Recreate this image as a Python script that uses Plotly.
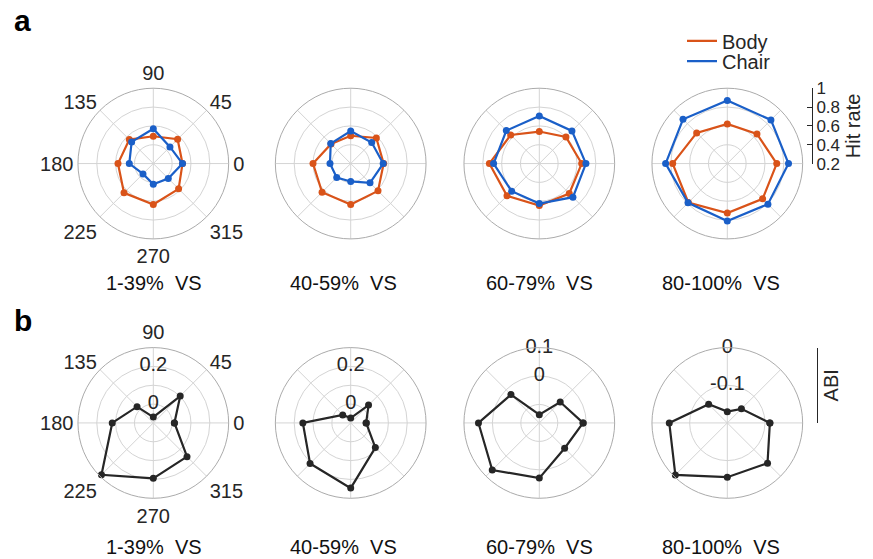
import plotly.graph_objects as go

# Directions (deg) and their labels
directions = [0, 45, 90, 135, 180, 225, 270, 315]
direction_labels = ["0", "45", "90", "135", "180", "225", "270", "315"]

# Visual-scene bins
bins = ["1-39%\u00a0 VS", "40-59%\u00a0 VS", "60-79%\u00a0 VS", "80-100%\u00a0 VS"]

# Panel a: hit rate per direction
body_hit = [
    [0.51, 0.565, 0.49, 0.56, 0.575, 0.64, 0.635, 0.58],
    [0.55, 0.585, 0.495, 0.495, 0.60, 0.63, 0.635, 0.61],
    [0.65, 0.60, 0.54, 0.63, 0.73, 0.685, 0.645, 0.65],
    [0.725, 0.645, 0.62, 0.66, 0.78, 0.785, 0.725, 0.73],
]
chair_hit = [
    [0.51, 0.45, 0.57, 0.525, 0.455, 0.355, 0.42, 0.425],
    [0.545, 0.515, 0.545, 0.50, 0.42, 0.41, 0.39, 0.49],
    [0.695, 0.69, 0.705, 0.695, 0.685, 0.615, 0.625, 0.705],
    [0.85, 0.855, 0.87, 0.865, 0.855, 0.79, 0.81, 0.81],
]
hit_ticks = [0.2, 0.4, 0.6, 0.8, 1.0]
hit_ticklabels = ["0.2", "0.4", "0.6", "0.8", "1"]

# Panel b: ABI per direction
abi = [
    [0.012, 0.102, -0.069, 0.022, 0.118, 0.289, 0.194, 0.153],
    [-0.018, 0.034, -0.074, -0.040, 0.154, 0.205, 0.246, 0.085],
    [-0.011, -0.061, -0.136, -0.024, 0.049, 0.069, 0.029, -0.039],
    [-0.087, -0.147, -0.170, -0.130, -0.046, -0.005, -0.056, -0.049],
]
abi_ranges = [[-0.1, 0.3], [-0.1, 0.3], [-0.165, 0.1], [-0.2, 0.0]]
abi_gridvals = [[0, 0.1, 0.2, 0.3], [0, 0.1, 0.2, 0.3], [-0.1, 0, 0.1], [-0.1, 0]]
abi_labelvals = [[0, 0.2], [0, 0.2], [0, 0.1], [-0.1, 0]]
abi_labeltext = [["0", "0.2"], ["0", "0.2"], ["0", "0.1"], ["-0.1", "0"]]

BODY = "#D95319"
CHAIR = "#1A5FC8"
INK = "#262626"
GRID = "#d4d4d4"
EDGE = "#ababab"
FONT = "Liberation Sans, Arial, sans-serif"

W, H = 873, 559
R = 78
centers_x = [153.3, 350.7, 539.3, 727.3]
row_y = [160, 428.5]
label_x = [154, 343, 539, 721]
label_y = [284, 557]


def closed(v):
    return list(v) + [v[0]]


def domain(cx, cy):
    return dict(x=[(cx - R) / W, (cx + R) / W], y=[1 - (cy + R) / H, 1 - (cy - R) / H])


def polar_layout(cx, cy, rng, gridvals, show_theta):
    return dict(
        domain=domain(cx, cy),
        bgcolor="rgba(0,0,0,0)",
        angularaxis=dict(
            rotation=0, direction="counterclockwise",
            tickmode="array", tickvals=directions, ticktext=direction_labels,
            showticklabels=show_theta, ticks="",
            tickfont=dict(size=20, color=INK, family=FONT),
            showgrid=True, gridcolor=GRID, gridwidth=1,
            showline=True, linecolor=EDGE, linewidth=1,
        ),
        radialaxis=dict(
            range=rng, tickmode="array", tickvals=gridvals,
            showticklabels=False, ticks="", showline=False,
            showgrid=True, gridcolor=GRID, gridwidth=1,
        ),
    )


def hit_series(fig, values, name, color, legend, subplot, show_legend):
    # polygon outline (carries the legend entry) plus the point markers
    fig.add_trace(go.Scatterpolar(
        r=closed(values), theta=closed(directions), subplot=subplot,
        mode="lines", name=name, legend=legend,
        line=dict(color=color, width=2.2), showlegend=show_legend,
    ))
    fig.add_trace(go.Scatterpolar(
        r=values, theta=directions, subplot=subplot, mode="markers",
        marker=dict(color=color, size=7), showlegend=False, name=name,
    ))


fig = go.Figure()
layout = {}

for i in range(4):
    pa = "polar" if i == 0 else f"polar{i + 1}"
    pb = f"polar{i + 5}"
    layout[pa] = polar_layout(centers_x[i], row_y[0], [0.2, 1.0], [0.4, 0.6, 0.8, 1.0], i == 0)
    layout[pb] = polar_layout(centers_x[i], row_y[1], abi_ranges[i], abi_gridvals[i], i == 0)

    hit_series(fig, body_hit[i], "Body", BODY, "legend", pa, i == 0)
    hit_series(fig, chair_hit[i], "Chair", CHAIR, "legend2", pa, i == 0)

    fig.add_trace(go.Scatterpolar(
        r=closed(abi[i]), theta=closed(directions), subplot=pb,
        mode="lines+markers", showlegend=False,
        line=dict(color=INK, width=2.2), marker=dict(color=INK, size=7),
    ))
    # radial tick labels drawn along the 90 deg spoke
    fig.add_trace(go.Scatterpolar(
        r=abi_labelvals[i], theta=[90] * len(abi_labelvals[i]), subplot=pb,
        mode="text", text=abi_labeltext[i], textposition="middle center",
        textfont=dict(size=20, color=INK, family=FONT),
        cliponaxis=False, showlegend=False, hoverinfo="skip",
    ))

# empty traces so the side scale bars get drawn
fig.add_trace(go.Scatter(x=[], y=[], xaxis="x", yaxis="y", showlegend=False))
fig.add_trace(go.Scatter(x=[], y=[], xaxis="x2", yaxis="y2", showlegend=False))

axis_font = dict(size=20, color=INK, family=FONT)
tick_font = dict(size=17, color=INK, family=FONT)
bar_x_hit = 812
bar_x_abi = 817

layout.update(
    xaxis=dict(domain=[(bar_x_hit - 1) / W, bar_x_hit / W], visible=False, anchor="y"),
    yaxis=dict(
        domain=[1 - row_y[0] / H, 1 - (row_y[0] - R) / H], range=[0.2, 1.0],
        anchor="x", side="right", showline=True, linecolor=INK, linewidth=1,
        ticks="inside", ticklen=5, tickcolor=INK, tickwidth=1,
        tickmode="array", tickvals=hit_ticks, ticktext=hit_ticklabels,
        tickfont=tick_font, showgrid=False, zeroline=False,
        title=dict(text="Hit rate", font=axis_font, standoff=6),
    ),
    xaxis2=dict(domain=[(bar_x_abi - 1) / W, bar_x_abi / W], visible=False, anchor="y2"),
    yaxis2=dict(
        domain=[1 - row_y[1] / H, 1 - (row_y[1] - R) / H], range=[0, 1],
        anchor="x2", side="right", showline=True, linecolor=INK, linewidth=1,
        ticks="inside", ticklen=5, tickcolor=INK, tickwidth=1,
        tickmode="array", tickvals=[0, 1], ticktext=["", ""],
        showgrid=False, zeroline=False,
        title=dict(text="ABI", font=axis_font, standoff=4),
    ),
)

annotations = []
for r_i in range(2):
    for i in range(4):
        annotations.append(dict(
            text=bins[i], x=label_x[i] / W, y=1 - label_y[r_i] / H,
            xref="paper", yref="paper", xanchor="center", yanchor="middle",
            showarrow=False, font=dict(size=20, color="#111111", family=FONT),
        ))
for letter, ly in (("a", 12), ("b", 322)):
    annotations.append(dict(
        text=f"<b>{letter}</b>", x=12 / W, y=1 - ly / H, xref="paper", yref="paper",
        xanchor="left", yanchor="middle", showarrow=False,
        font=dict(size=30, color="#000000", family=FONT),
    ))

legend_common = dict(
    xanchor="left", yanchor="middle", bgcolor="rgba(0,0,0,0)",
    font=dict(size=20, color=INK, family=FONT), itemwidth=30,
)
layout.update(
    legend=dict(x=682 / W, y=1 - 33 / H, **legend_common),
    legend2=dict(x=682 / W, y=1 - 54 / H, **legend_common),
)

fig.update_layout(
    **layout,
    annotations=annotations,
    width=W, height=H,
    margin=dict(l=0, r=0, t=0, b=0),
    paper_bgcolor="white", plot_bgcolor="white",
    font=dict(family=FONT, color=INK),
)

fig.write_html("out.html")
